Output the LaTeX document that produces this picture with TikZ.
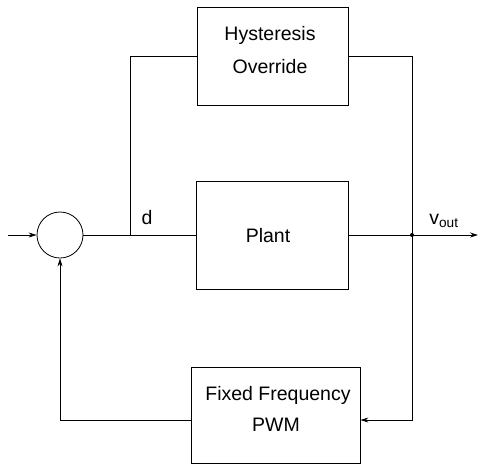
\documentclass[tikz,border=0pt]{standalone}
\usepackage{fontspec}
\setmainfont{Liberation Sans}
\usetikzlibrary{arrows.meta}
\begin{document}
\begin{tikzpicture}[x=1pt,y=-1pt,
  blk/.style={draw,line width=0.8pt,inner sep=0pt},
  lbl/.style={font=\fontsize{19.5}{24}\selectfont,anchor=base,inner sep=0pt},
  wire/.style={line width=0.8pt},
  arr/.style={wire,-{Stealth[length=8pt,width=5pt]}}]
\useasboundingbox (0,0) rectangle (478,466);
\node[blk,minimum width=151pt,minimum height=98pt] (hyst) at (272.5,56) {};
\node[lbl] (h1) at (270,40) {Hysteresis};
\node[lbl] (h2) at (270,73) {Override};
\node[blk,minimum width=152pt,minimum height=108pt] (plant) at (272,235) {};
\node[lbl] (p1) at (268,242) {Plant};
\node[blk,minimum width=169pt,minimum height=96pt] (pwm) at (275.5,415) {};
\node[lbl] (f1) at (278,400) {Fixed Frequency};
\node[lbl] (f2) at (276,431) {PWM};
\node[draw,circle,line width=0.8pt,minimum size=46pt,inner sep=0pt] (sum) at (60,235) {};
\coordinate (in) at (8,235);
\coordinate (jd) at (130,235);
\coordinate (jo) at (412,235);
\coordinate (out) at (478,235);
\draw[arr] (in) -- (sum.west);
\draw[wire] (sum.east) -- (plant.west);
\draw[wire] (jd) |- (hyst.west);
\draw[wire] (hyst.east) -| (jo);
\draw[wire] (plant.east) -- (jo);
\draw[arr] (jo) -- (out);
\fill (jo) circle (2pt);
\draw[arr] (jo) |- (pwm.east |- 0,420);
\draw[arr] (pwm.west |- 0,420) -| (sum.south);
\node[lbl] (d) at (147,224) {d};
\node[lbl] (v) at (444,224) {v\textsubscript{out}};
\end{tikzpicture}
\end{document}
